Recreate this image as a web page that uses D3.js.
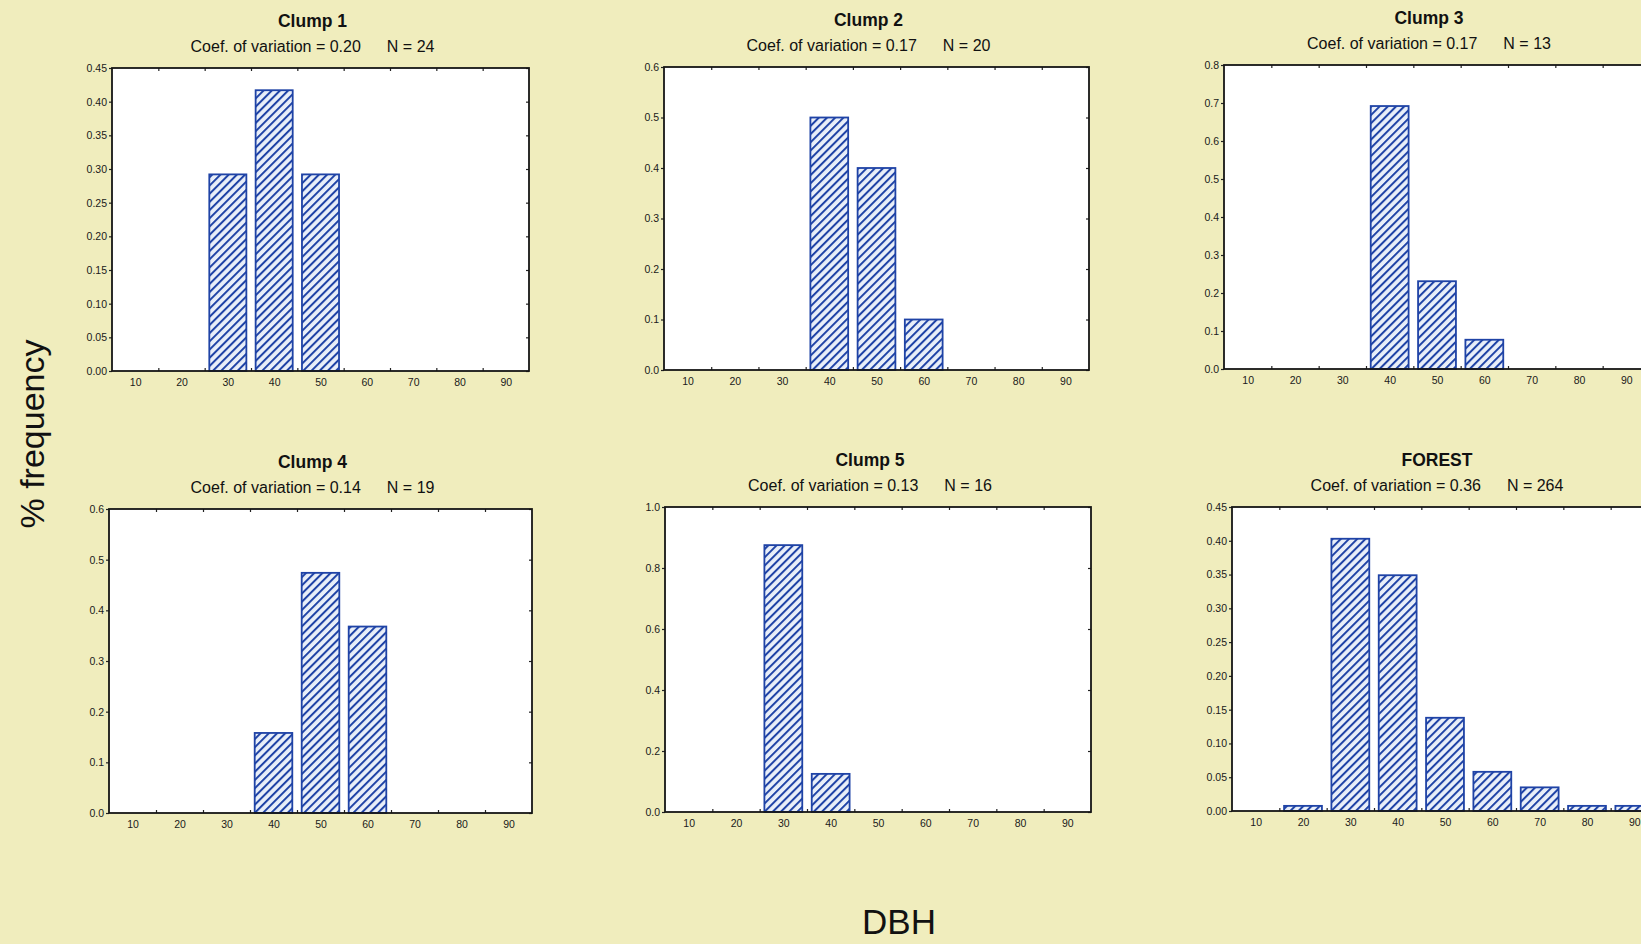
<!DOCTYPE html>
<html>
<head>
<meta charset="utf-8">
<script src="https://cdn.jsdelivr.net/npm/d3@7"></script>
<style>
  body { margin: 0; background: #f0edbd; overflow: hidden; }
  svg { display: block; font-family: "Liberation Sans", Arial, sans-serif; }
</style>
</head>
<body>
<div id="chart"></div>
<script>
const width = 1641;
const height = 944;

//DBH classes (bin centres) and bin edges for the small ticks
const dbhClasses = [10, 20, 30, 40, 50, 60, 70, 80, 90];
const binEdges = [15, 25, 35, 45, 55, 65, 75, 85];

//panel headers
const panelTitles = ["Clump 1", "Clump 2", "Clump 3", "Clump 4", "Clump 5", "FOREST"];
const coefVariation = ["0.20", "0.17", "0.17", "0.14", "0.13", "0.36"];
const sampleSize = [24, 20, 13, 19, 16, 264];

//relative frequency per DBH class
const clump1 = [0, 0, 0.292, 0.417, 0.292, 0, 0, 0, 0];
const clump2 = [0, 0, 0, 0.50, 0.40, 0.10, 0, 0, 0];
const clump3 = [0, 0, 0, 0.692, 0.231, 0.077, 0, 0, 0];
const clump4 = [0, 0, 0, 0.158, 0.474, 0.368, 0, 0, 0];
const clump5 = [0, 0, 0.875, 0.125, 0, 0, 0, 0, 0];
const forest = [0, 0.0076, 0.403, 0.349, 0.138, 0.058, 0.035, 0.0076, 0.0076];

//y tick labels per panel
const yTicks1 = [0, 0.05, 0.10, 0.15, 0.20, 0.25, 0.30, 0.35, 0.40, 0.45];
const yTicks2 = [0, 0.1, 0.2, 0.3, 0.4, 0.5, 0.6];
const yTicks3 = [0, 0.1, 0.2, 0.3, 0.4, 0.5, 0.6, 0.7, 0.8];
const yTicks4 = [0, 0.1, 0.2, 0.3, 0.4, 0.5, 0.6];
const yTicks5 = [0, 0.2, 0.4, 0.6, 0.8, 1.0];
const yTicks6 = [0, 0.05, 0.10, 0.15, 0.20, 0.25, 0.30, 0.35, 0.40, 0.45];

const series = [clump1, clump2, clump3, clump4, clump5, forest];
const yTickSets = [yTicks1, yTicks2, yTicks3, yTicks4, yTicks5, yTicks6];
const yFormats = [".2f", ".1f", ".1f", ".1f", ".1f", ".2f"];

//layout of the plot frames (left, top, width, height)
const frames = [
  { x: 112, y: 68, w: 417, h: 303 },
  { x: 664, y: 67, w: 425, h: 303 },
  { x: 1224, y: 65, w: 426, h: 304 },
  { x: 109, y: 509, w: 423, h: 304 },
  { x: 665, y: 507, w: 426, h: 305 },
  { x: 1232, y: 507, w: 426, h: 304 },
];

const blue = "#1f43a6";

const svg = d3.select("#chart")
  .append("svg")
  .attr("width", width)
  .attr("height", height);

svg.append("rect")
  .attr("width", width)
  .attr("height", height)
  .attr("fill", "#f0edbd");

//diagonal hatch used for every bar
const defs = svg.append("defs");
const hatch = defs.append("pattern")
  .attr("id", "hatch")
  .attr("patternUnits", "userSpaceOnUse")
  .attr("width", 5.8)
  .attr("height", 5.8)
  .attr("patternTransform", "rotate(45)");
hatch.append("rect")
  .attr("width", 5.8)
  .attr("height", 5.8)
  .attr("fill", "#e9eff9");
hatch.append("line")
  .attr("x1", 1).attr("y1", 0)
  .attr("x2", 1).attr("y2", 5.8)
  .attr("stroke", blue)
  .attr("stroke-width", 2);

series.forEach((values, i) => {
  const f = frames[i];
  const ticks = yTickSets[i];
  const g = svg.append("g");

  const xScale = d3.scaleLinear().domain([5, 95]).range([f.x, f.x + f.w]);
  const yScale = d3.scaleLinear().domain([0, d3.max(ticks)]).range([f.y + f.h, f.y]);

  //plot area
  g.append("rect")
    .attr("x", f.x).attr("y", f.y)
    .attr("width", f.w).attr("height", f.h)
    .attr("fill", "#ffffff");

  //bars
  const barData = dbhClasses.map((c, j) => ({ c: c, v: values[j] })).filter(d => d.v > 0);
  g.selectAll(".bar")
    .data(barData)
    .enter()
    .append("rect")
    .attr("class", "bar")
    .attr("x", d => xScale(d.c - 4))
    .attr("y", d => yScale(d.v))
    .attr("width", d => xScale(d.c + 4) - xScale(d.c - 4))
    .attr("height", d => yScale(0) - yScale(d.v))
    .attr("fill", "url(#hatch)")
    .attr("stroke", blue)
    .attr("stroke-width", 1.8);

  //x tick labels
  const xAxis = g.append("g")
    .attr("transform", `translate(0,${f.y + f.h})`)
    .call(d3.axisBottom(xScale).tickValues(dbhClasses).tickSize(0).tickPadding(8));
  //small ticks at the bin edges, bottom and top
  const xEdges = g.append("g")
    .attr("transform", `translate(0,${f.y + f.h})`)
    .call(d3.axisBottom(xScale).tickValues(binEdges).tickSize(-3).tickFormat(""));
  const xTop = g.append("g")
    .attr("transform", `translate(0,${f.y})`)
    .call(d3.axisTop(xScale).tickValues(binEdges).tickSize(-3).tickFormat(""));

  //y tick labels
  const yAxis = g.append("g")
    .attr("transform", `translate(${f.x},0)`)
    .call(d3.axisLeft(yScale).tickValues(ticks).tickSize(3).tickPadding(2).tickFormat(d3.format(yFormats[i])));
  const yRight = g.append("g")
    .attr("transform", `translate(${f.x + f.w},0)`)
    .call(d3.axisRight(yScale).tickValues(ticks).tickSize(-3).tickFormat(""));

  [xAxis, xEdges, xTop, yAxis, yRight].forEach(a => {
    a.select(".domain").remove();
    a.selectAll("line").attr("stroke", "#222").attr("stroke-width", 1.2);
    a.selectAll("text")
      .attr("fill", "#1a1a1a")
      .style("font-size", "10.5px")
      .style("font-family", "'Liberation Sans', Arial, sans-serif");
  });

  //frame
  g.append("rect")
    .attr("x", f.x).attr("y", f.y)
    .attr("width", f.w).attr("height", f.h)
    .attr("fill", "none")
    .attr("stroke", "#161616")
    .attr("stroke-width", 1.8);

  //titles
  const cx = f.x + f.w / 2 - 8;
  g.append("text")
    .attr("x", cx)
    .attr("y", f.y - 41)
    .attr("text-anchor", "middle")
    .attr("font-size", "17.5px")
    .attr("font-weight", "bold")
    .attr("fill", "#111")
    .text(panelTitles[i]);

  const sub = g.append("text")
    .attr("x", cx)
    .attr("y", f.y - 16)
    .attr("text-anchor", "middle")
    .attr("font-size", "16px")
    .attr("fill", "#111");
  sub.append("tspan").text(`Coef. of variation = ${coefVariation[i]}`);
  sub.append("tspan").attr("dx", 26).text(`N = ${sampleSize[i]}`);
});

//shared axis titles
svg.append("text")
  .attr("transform", "translate(44,434) rotate(-90)")
  .attr("text-anchor", "middle")
  .attr("font-size", "34px")
  .attr("fill", "#111")
  .text("% frequency");

svg.append("text")
  .attr("x", 899)
  .attr("y", 934)
  .attr("text-anchor", "middle")
  .attr("font-size", "35px")
  .attr("fill", "#111")
  .text("DBH");
</script>
</body>
</html>
